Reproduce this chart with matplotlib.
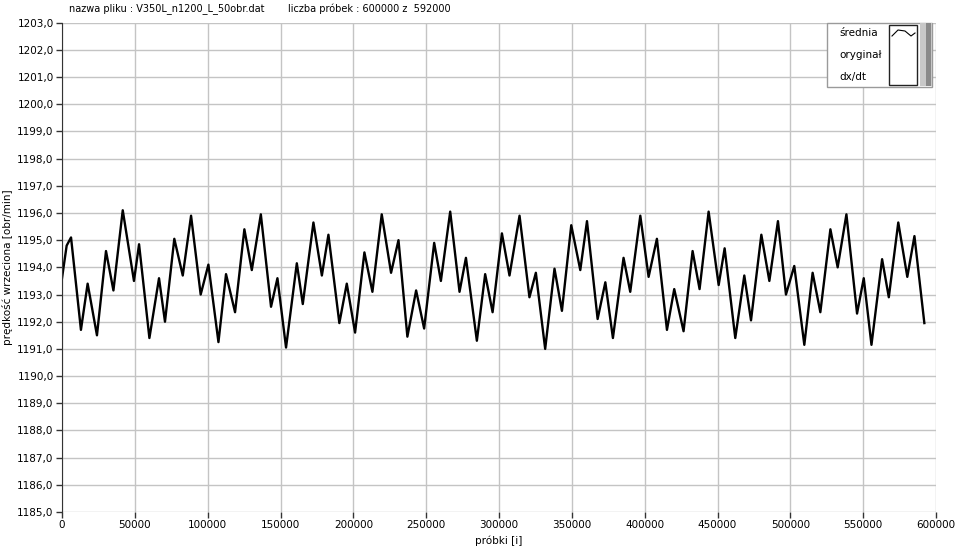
import matplotlib.pyplot as plt
from matplotlib.patches import Rectangle
from matplotlib.lines import Line2D
from matplotlib.ticker import FuncFormatter

# odczytane ekstrema przebiegu (próbka, obr/min)
probki = [0, 3200, 6200, 13000, 17600, 24000, 30200, 35300, 41700, 49400,
          52900, 60000, 66600, 70700, 77100, 82900, 88600, 95200, 100500, 107400,
          112600, 118800, 125200, 130300, 136500, 143500, 147900, 153800, 161200, 165300,
          172600, 178400, 182900, 190400, 195500, 201200, 207600, 213100, 219500, 225900,
          231000, 237100, 243100, 248600, 255500, 260100, 266500, 272900, 277300, 284800,
          290500, 295600, 302000, 307200, 314100, 320900, 325300, 331700, 338100, 343200,
          349600, 355800, 360400, 367700, 373000, 378200, 385500, 390100, 397000, 402700,
          408400, 415300, 420300, 426700, 432900, 437700, 443900, 450800, 454900, 462200,
          468400, 473000, 480100, 485600, 491500, 497000, 502700, 509600, 515300, 520600,
          527500, 532500, 538500, 545800, 550400, 555700, 563000, 567600, 574100, 580300,
          585200, 592000]
predkosc = [1193.6, 1194.8, 1195.1, 1191.7, 1193.4, 1191.5, 1194.6, 1193.15, 1196.1, 1193.5,
            1194.85, 1191.4, 1193.6, 1192.0, 1195.05, 1193.7, 1195.9, 1193.0, 1194.1, 1191.25,
            1193.75, 1192.35, 1195.4, 1193.9, 1195.95, 1192.55, 1193.6, 1191.05, 1194.15, 1192.65,
            1195.65, 1193.7, 1195.2, 1191.95, 1193.4, 1191.6, 1194.55, 1193.1, 1195.95, 1193.8,
            1195.0, 1191.45, 1193.15, 1191.75, 1194.9, 1193.5, 1196.05, 1193.1, 1194.35, 1191.3,
            1193.75, 1192.35, 1195.25, 1193.7, 1195.9, 1192.9, 1193.8, 1191.0, 1193.95, 1192.4,
            1195.55, 1193.9, 1195.7, 1192.1, 1193.45, 1191.4, 1194.35, 1193.1, 1195.9, 1193.65,
            1195.05, 1191.7, 1193.2, 1191.65, 1194.6, 1193.2, 1196.05, 1193.35, 1194.7, 1191.4,
            1193.7, 1192.05, 1195.2, 1193.5, 1195.7, 1193.0, 1194.05, 1191.15, 1193.8, 1192.35,
            1195.4, 1194.0, 1195.95, 1192.3, 1193.6, 1191.15, 1194.3, 1192.9, 1195.65, 1193.65,
            1195.15, 1191.95]

x_ticks = list(range(0, 600001, 50000))
y_ticks = [1185 + i for i in range(19)]
legend_labels = ["średnia", "oryginał", "dx/dt"]

W, H = 960, 552
fig = plt.figure(figsize=(W / 100, H / 100), dpi=100)
ax = fig.add_axes([62 / W, 1 - 512 / H, (936 - 62) / W, (512 - 22.7) / H])

ax.plot(probki, predkosc, color="black", lw=1.7, solid_joinstyle="round")

ax.set_xlim(0, 600000)
ax.set_ylim(1185, 1203)
ax.set_xticks(x_ticks)
ax.set_yticks(y_ticks)
ax.yaxis.set_major_formatter(FuncFormatter(lambda v, p: f"{v:.1f}".replace(".", ",")))
ax.xaxis.set_major_formatter(FuncFormatter(lambda v, p: f"{int(v)}"))
ax.grid(True, color="#c4c4c4", lw=1.0)
ax.set_axisbelow(True)
for s in ["top", "right", "bottom"]:
    ax.spines[s].set_visible(False)
ax.spines["left"].set_color("#333333")
ax.tick_params(axis="both", direction="out", length=4, width=1, color="#333333",
               labelsize=7.5, pad=2)

ax.set_xlabel("próbki [i]", fontsize=7.5, labelpad=4)
ax.set_ylabel("prędkość wrzeciona [obr/min]", fontsize=7.5, labelpad=3)

fig.text(69 / W, 1 - 9 / H, "nazwa pliku : V350L_n1200_L_50obr.dat", fontsize=7.0, va="center")
fig.text(288 / W, 1 - 9 / H, "liczba próbek : 600000 z  592000", fontsize=7.0, va="center")

# legenda w stylu LabVIEW
tf = fig.transFigure
def fx(px):
    return px / W
def fy(py):
    return 1 - py / H

fig.patches.append(Rectangle((fx(827), fy(87)), (932 - 827) / W, (87 - 23) / H,
                             transform=tf, facecolor="white", edgecolor="#9a9a9a", lw=1, zorder=5))
fig.patches.append(Rectangle((fx(920), fy(86)), 12 / W, 63 / H, transform=tf,
                             facecolor="#c8c8c8", edgecolor="none", zorder=6))
fig.patches.append(Rectangle((fx(926), fy(86)), 5 / W, 63 / H, transform=tf,
                             facecolor="#8a8a8a", edgecolor="none", zorder=6))
fig.patches.append(Rectangle((fx(889), fy(85)), 28 / W, 60 / H, transform=tf,
                             facecolor="white", edgecolor="#222222", lw=1, zorder=6))
fig.lines.append(Line2D([fx(892), fx(898), fx(905), fx(911), fx(915)],
                        [fy(36), fy(30), fy(31), fy(36), fy(33)],
                        transform=tf, color="black", lw=0.8, zorder=7))
for i, lab in enumerate(legend_labels):
    fig.text(fx(839), fy(33 + i * 22), lab, fontsize=7.5, va="center", zorder=7)

fig.savefig("out.png", dpi=100)
